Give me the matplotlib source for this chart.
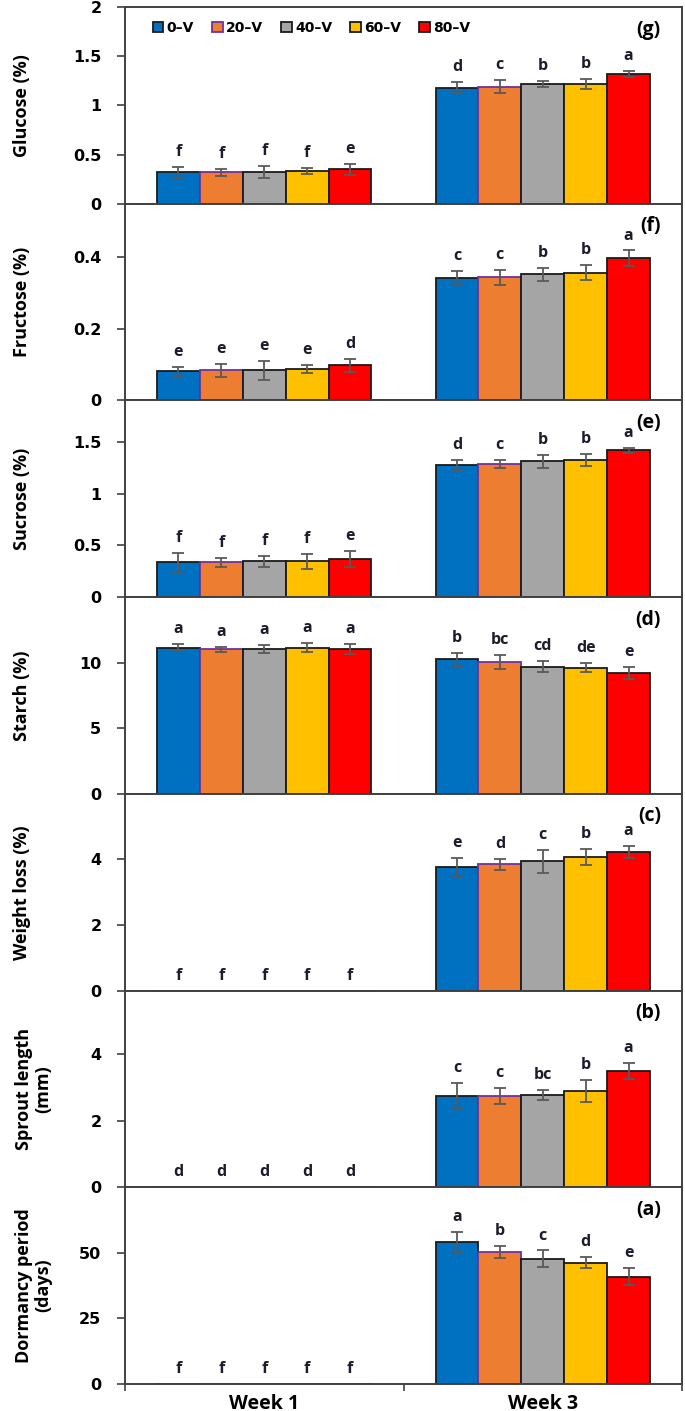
import numpy as np
import matplotlib
matplotlib.use('Agg')
import matplotlib.pyplot as plt

# treatments and weeks
treatments = ['0\u2013V', '20\u2013V', '40\u2013V', '60\u2013V', '80\u2013V']
weeks = ['Week 1', 'Week 3']
colors = ['#0070C0', '#ED7D31', '#A5A5A5', '#FFC000', '#FF0000']
edges = ['#1a1a1a', '#7030A0', '#1a1a1a', '#1a1a1a', '#1a1a1a']

# (g) glucose
glucose_mean = [[0.32, 0.32, 0.32, 0.33, 0.35], [1.18, 1.19, 1.22, 1.22, 1.32]]
glucose_sd = [[0.054, 0.034, 0.06, 0.03, 0.058], [0.057, 0.065, 0.03, 0.05, 0.033]]
glucose_let = [['f', 'f', 'f', 'f', 'e'], ['d', 'c', 'b', 'b', 'a']]

# (f) fructose
fructose_mean = [[0.081, 0.084, 0.084, 0.087, 0.098], [0.341, 0.343, 0.351, 0.355, 0.396]]
fructose_sd = [[0.0125, 0.018, 0.027, 0.012, 0.018], [0.02, 0.021, 0.018, 0.021, 0.021]]
fructose_let = [['e', 'e', 'e', 'e', 'd'], ['c', 'c', 'b', 'b', 'a']]

# (e) sucrose
sucrose_mean = [[0.335, 0.335, 0.345, 0.345, 0.367], [1.274, 1.287, 1.312, 1.325, 1.42]]
sucrose_sd = [[0.096, 0.043, 0.054, 0.069, 0.08], [0.051, 0.042, 0.065, 0.054, 0.024]]
sucrose_let = [['f', 'f', 'f', 'f', 'e'], ['d', 'c', 'b', 'b', 'a']]

# (d) starch
starch_mean = [[11.13, 11.03, 11.03, 11.13, 11.03], [10.27, 10.07, 9.69, 9.61, 9.21]]
starch_sd = [[0.27, 0.18, 0.29, 0.34, 0.39], [0.49, 0.53, 0.43, 0.34, 0.48]]
starch_let = [['a', 'a', 'a', 'a', 'a'], ['b', 'bc', 'cd', 'de', 'e']]

# (c) weight loss
weight_mean = [[0, 0, 0, 0, 0], [3.77, 3.85, 3.95, 4.07, 4.23]]
weight_sd = [[0, 0, 0, 0, 0], [0.27, 0.17, 0.35, 0.25, 0.19]]
weight_let = [['f', 'f', 'f', 'f', 'f'], ['e', 'd', 'c', 'b', 'a']]

# (b) sprout length
sprout_mean = [[0, 0, 0, 0, 0], [2.74, 2.74, 2.77, 2.89, 3.49]]
sprout_sd = [[0, 0, 0, 0, 0], [0.38, 0.23, 0.16, 0.34, 0.24]]
sprout_let = [['d', 'd', 'd', 'd', 'd'], ['c', 'c', 'bc', 'b', 'a']]

# (a) dormancy period
dormancy_mean = [[0, 0, 0, 0, 0], [54.1, 50.3, 47.7, 46.3, 40.9]]
dormancy_sd = [[0, 0, 0, 0, 0], [3.9, 2.2, 3.2, 2.2, 3.2]]
dormancy_let = [['f', 'f', 'f', 'f', 'f'], ['a', 'b', 'c', 'd', 'e']]

panels = [
    ('Glucose (%)', '(g)', glucose_mean, glucose_sd, glucose_let, 2.0, [0, 0.5, 1, 1.5, 2], ['0', '0.5', '1', '1.5', '2']),
    ('Fructose (%)', '(f)', fructose_mean, fructose_sd, fructose_let, 0.547, [0, 0.2, 0.4], ['0', '0.2', '0.4']),
    ('Sucrose (%)', '(e)', sucrose_mean, sucrose_sd, sucrose_let, 1.9, [0, 0.5, 1, 1.5], ['0', '0.5', '1', '1.5']),
    ('Starch (%)', '(d)', starch_mean, starch_sd, starch_let, 15, [0, 5, 10], ['0', '5', '10']),
    ('Weight loss (%)', '(c)', weight_mean, weight_sd, weight_let, 6.0, [0, 2, 4], ['0', '2', '4']),
    ('Sprout length\n(mm)', '(b)', sprout_mean, sprout_sd, sprout_let, 5.91, [0, 2, 4], ['0', '2', '4']),
    ('Dormancy period\n(days)', '(a)', dormancy_mean, dormancy_sd, dormancy_let, 75, [0, 25, 50], ['0', '25', '50']),
]

lab_font = ['Open Sans', 'DejaVu Sans']
tick_font = 'DejaVu Sans'
spine_c = '#404040'

fig, axes = plt.subplots(7, 1, figsize=(6.85, 14.11), dpi=100, sharex=True,
                         gridspec_kw=dict(hspace=0))
fig.subplots_adjust(left=125/685, right=682/685, top=1-7/1411, bottom=1-1384/1411)

x = np.arange(len(weeks))
w = 0.154

for k, (ax, (ylab, tag, mean, sd, lets, ytop, yt, ytl)) in enumerate(zip(axes, panels)):
    mean = np.array(mean)
    sd = np.array(sd)
    for i in range(len(treatments)):
        xi = x + (i - 2) * w
        ax.bar(xi, mean[:, i], w, color=colors[i], edgecolor=edges[i], linewidth=1.3,
               label=treatments[i], zorder=2)
        m = sd[:, i] > 0
        if m.any():
            ax.errorbar(xi[m], mean[m, i], yerr=sd[m, i], fmt='none', ecolor='#595959',
                        elinewidth=1.3, capsize=4.5, capthick=1.3, zorder=3)
        for j in range(len(weeks)):
            ax.annotate(lets[j][i], (xi[j], mean[j, i] + sd[j, i]), xytext=(0, 5),
                        textcoords='offset points', ha='center', va='bottom',
                        fontsize=11.5, fontweight='bold', family=lab_font, color='#1c1c2c')
    ax.set_xlim(-0.5, 1.5)
    ax.set_ylim(0, ytop)
    ax.set_yticks(yt)
    ax.set_yticklabels(ytl, fontsize=11.5, fontweight='bold', family=tick_font)
    ax.tick_params(axis='y', direction='out', length=6, width=1.2, color=spine_c, pad=11)
    for s in ax.spines.values():
        s.set_color(spine_c)
        s.set_linewidth(1.4)
    ax.text(0.962, 0.885, tag, transform=ax.transAxes, ha='right', va='center',
            fontsize=14, fontweight='bold', family=lab_font)
    ax.set_ylabel(ylab, fontsize=13, fontweight='bold', family=lab_font, va='center',
                  linespacing=1.1)
    if '\n' in ylab:
        ax.yaxis.set_label_coords((34 - 125) / 557, 0.5)
    else:
        ax.yaxis.set_label_coords((22 - 125) / 557, 0.5)
    if k < 6:
        ax.tick_params(axis='x', which='both', length=0, labelbottom=False)

axes[0].legend(loc='center left', bbox_to_anchor=(0.04, 0.894), ncol=5, frameon=False,
               handlelength=0.75, handleheight=0.75, handletextpad=0.25, columnspacing=1.3,
               borderaxespad=0, prop=dict(family=tick_font, weight='bold', size=10))

bx = axes[-1]
bx.set_xticks(x)
bx.set_xticklabels(weeks, fontsize=14, fontweight='bold', family=lab_font)
bx.set_xticks([-0.5, 0.5, 1.5], minor=True)
bx.tick_params(axis='x', which='major', length=0, pad=7)
bx.tick_params(axis='x', which='minor', direction='out', length=5, width=1.2, color=spine_c)

plt.savefig('out.png', dpi=100)
